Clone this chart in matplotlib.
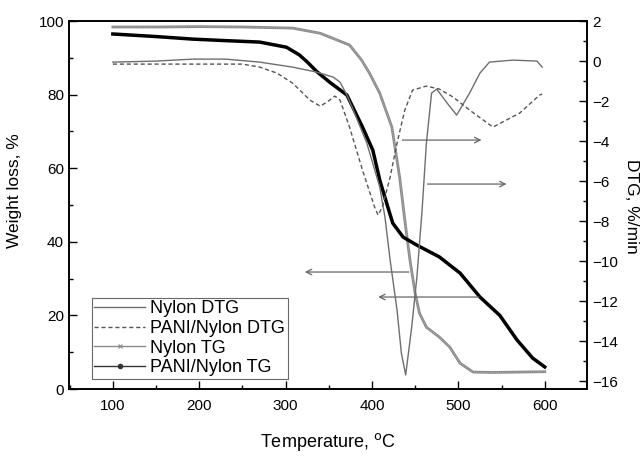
import numpy as np
import matplotlib.pyplot as plt
from matplotlib.ticker import MultipleLocator
from matplotlib.lines import Line2D

plt.rcParams['font.family'] = ['Liberation Sans', 'DejaVu Sans']

# Nylon TG (left axis, %)
nylon_tg_t = [100, 150, 200, 250, 308, 340, 374, 388, 397, 409, 423, 432, 438,
              444, 450, 455, 463, 478, 490, 502, 517, 540, 570, 600]
nylon_tg_w = [98.4, 98.4, 98.5, 98.4, 98.1, 96.7, 93.5, 89.4, 85.9, 80.4, 71.2, 57.6, 45.9,
              35, 26, 20.6, 16.8, 14.1, 11.4, 7, 4.6, 4.5, 4.6, 4.7]

# PANI/Nylon TG (left axis, %)
pani_tg_t = [100, 150, 193, 230, 270, 301, 316, 325, 336, 351, 371, 389, 401,
             409, 417, 424, 436, 452, 478, 502, 525, 548, 568, 586, 600]
pani_tg_w = [96.5, 95.8, 95.1, 94.7, 94.3, 92.9, 90.8, 88.9, 86.3, 83.4, 79.9, 71.2, 64.9,
             56.8, 50.5, 45.1, 41.3, 39.1, 35.9, 31.5, 25, 20, 13.3, 8.4, 6]

# Nylon DTG (right axis, %/min)
nylon_dtg_t = [100, 150, 193, 230, 270, 308, 336, 355, 363, 371, 377, 394, 409, 415, 421,
               429, 434, 439, 446, 452, 458, 463, 469, 475, 487, 498, 513, 525, 536, 563,
               591, 597]
nylon_dtg_v = [-0.05, 0.0, 0.1, 0.1, -0.05, -0.3, -0.55, -0.8, -1.05, -1.7, -2.3, -4.1,
               -6.3, -7.8, -9.95, -12.45, -14.6, -15.7, -13.3, -10.8, -7.45, -4.1, -1.6,
               -1.4, -2.1, -2.7, -1.6, -0.6, -0.05, 0.05, 0.0, -0.3]

# PANI/Nylon DTG (right axis, %/min)
pani_dtg_t = [100, 150, 193, 250, 270, 290, 308, 320, 328, 340, 348, 357, 363, 374, 389,
              403, 407, 412, 421, 429, 438, 447, 463, 478, 494, 513, 540, 571, 594, 597]
pani_dtg_v = [-0.15, -0.15, -0.15, -0.15, -0.3, -0.6, -1.1, -1.6, -1.95, -2.25, -2.05, -1.75,
              -1.95, -3.3, -5.45, -7.3, -7.7, -7.3, -5.8, -4.1, -2.45, -1.45, -1.25, -1.4,
              -1.8, -2.45, -3.3, -2.6, -1.7, -1.65]

fig, ax = plt.subplots(figsize=(6.43, 4.59), dpi=100)
fig.subplots_adjust(left=0.107, right=0.913, bottom=0.1525, top=0.954)
ax2 = ax.twinx()

ax2.plot(nylon_dtg_t, nylon_dtg_v, color='#6e6e6e', lw=1.0)
ax2.plot(pani_dtg_t, pani_dtg_v, color='#555555', lw=1.0, ls=(0, (3, 2)))
ax.plot(nylon_tg_t, nylon_tg_w, color='#8a8a8a', lw=2.0)
ax.plot(nylon_tg_t, nylon_tg_w, color='#bbbbbb', lw=0.6, ls=(0, (1, 1.2)))
ax.plot(pani_tg_t, pani_tg_w, color='black', lw=2.5)

arrow = dict(arrowstyle='->', color='#666666', lw=0.9)
ax2.annotate('', xy=(530, -3.95), xytext=(432, -3.95), arrowprops=arrow)
ax2.annotate('', xy=(559, -6.15), xytext=(461, -6.15), arrowprops=arrow)
ax.annotate('', xy=(319, 31.8), xytext=(446, 31.8), arrowprops=arrow)
ax.annotate('', xy=(404, 25), xytext=(527, 25), arrowprops=arrow)

ax.set_xlim(49, 649)
ax.set_ylim(0, 100)
ax2.set_ylim(-16.4, 2)

ax.xaxis.set_major_locator(MultipleLocator(100))
ax.xaxis.set_minor_locator(MultipleLocator(50))
ax.yaxis.set_major_locator(MultipleLocator(20))
ax.yaxis.set_minor_locator(MultipleLocator(10))
ax2.yaxis.set_major_locator(MultipleLocator(2))
ax2.yaxis.set_minor_locator(MultipleLocator(1))

for a in (ax, ax2):
    a.tick_params(which='both', direction='in', labelsize=11, width=1)
    a.tick_params(which='major', length=6)
    a.tick_params(which='minor', length=3)
    for s in a.spines.values():
        s.set_linewidth(1.2)
ax.tick_params(axis='x', pad=7)

ax.set_xlabel('Temperature, $^{\\rm o}$C', fontsize=13)
ax.xaxis.set_label_coords(0.5, -0.115)
ax.set_ylabel('Weight loss, %', fontsize=12.5)
ax.yaxis.set_label_coords(-0.091, 0.54)
ax2.set_ylabel('DTG, %/min', fontsize=12.5, rotation=270, va='center')
ax2.yaxis.set_label_coords(1.085, 0.497)

handles = [
    Line2D([], [], color='#6e6e6e', lw=1.0),
    Line2D([], [], color='#555555', lw=1.0, ls=(0, (3, 2))),
    Line2D([], [], color='#8a8a8a', lw=1.0, marker='x', ms=3.5, mew=0.8),
    Line2D([], [], color='#333333', lw=1.0, marker='o', ms=3),
]
labels = ['Nylon DTG', 'PANI/Nylon DTG', 'Nylon TG', 'PANI/Nylon TG']
leg = ax.legend(handles, labels, loc='lower left', bbox_to_anchor=(0.044, 0.027),
                fontsize=13, frameon=True, fancybox=False, edgecolor='#444444',
                handlelength=2.8, borderpad=0.15, labelspacing=0.15, handletextpad=0.3,
                borderaxespad=0.0)
leg.get_frame().set_linewidth(0.8)

plt.savefig('out.png', dpi=100)
